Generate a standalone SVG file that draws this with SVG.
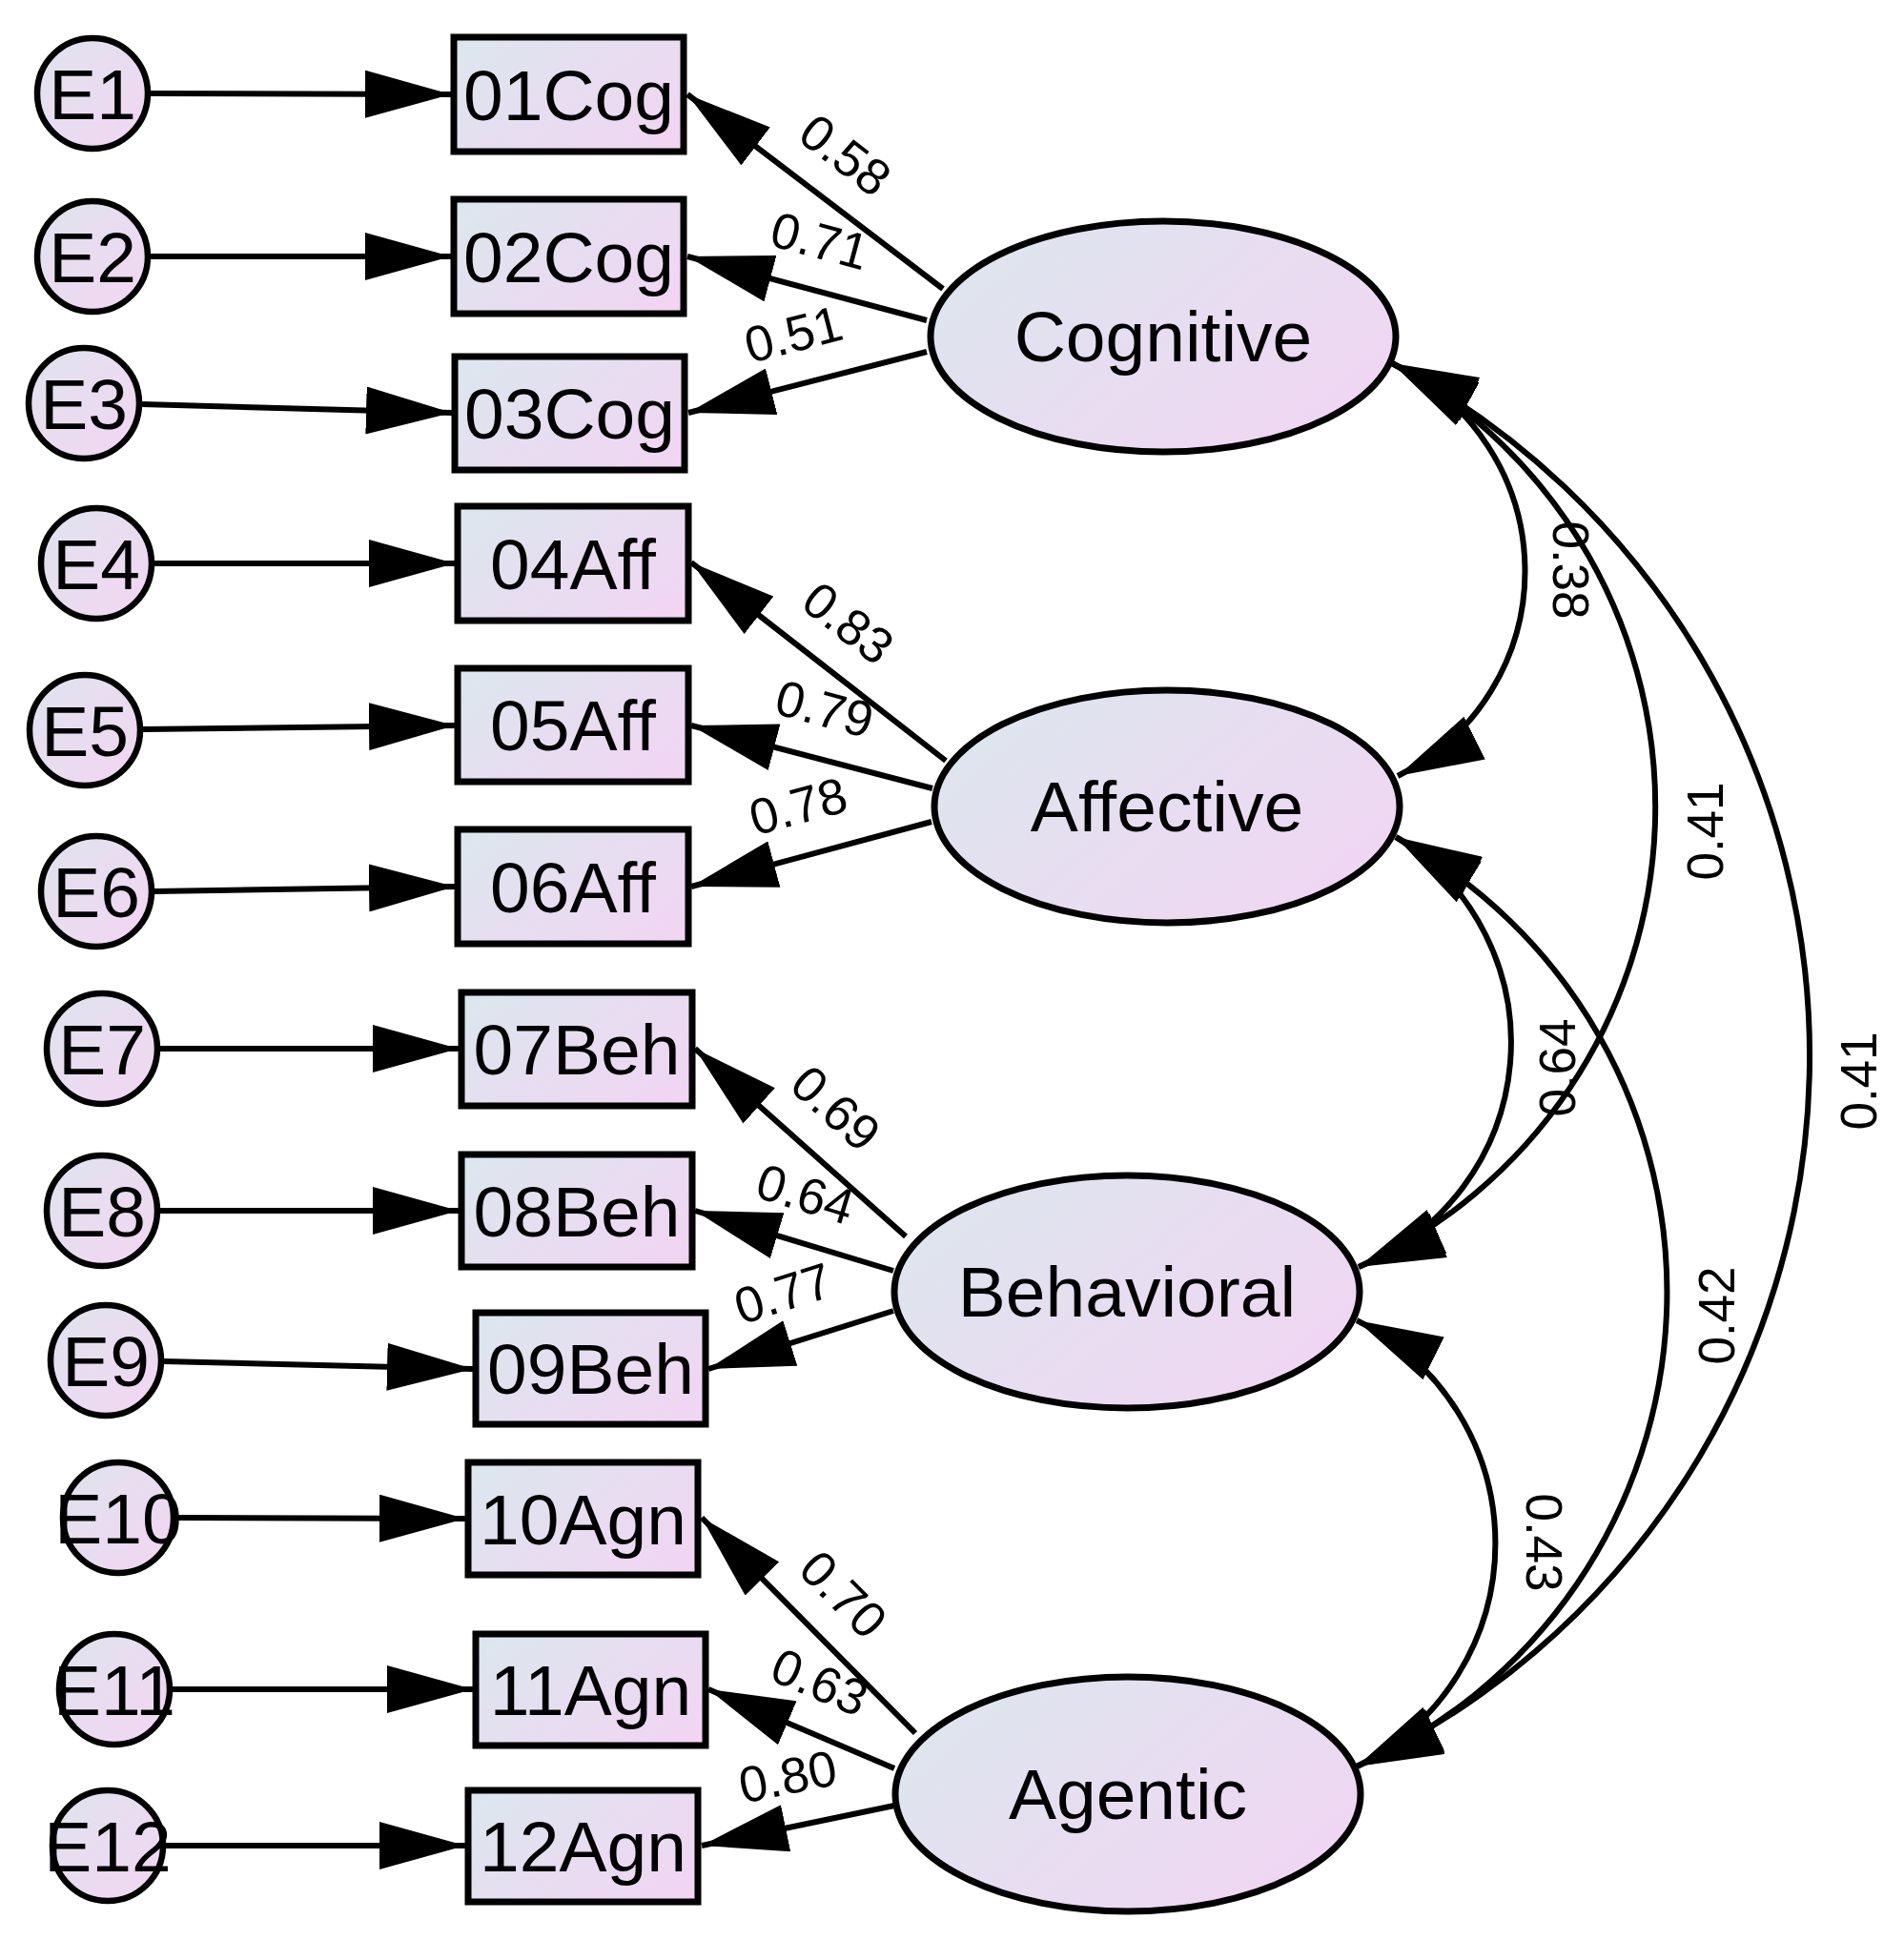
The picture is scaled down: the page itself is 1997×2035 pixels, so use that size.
<svg xmlns="http://www.w3.org/2000/svg" width="1997" height="2035" viewBox="0 0 1997 2035">
<style>
.n{stroke:#000;stroke-width:7;fill:url(#gf)}
.e{stroke:#000;stroke-width:6.5;fill:url(#gc)}
.t{font-family:"Liberation Sans",Arial,sans-serif;font-size:75px;text-anchor:middle;fill:#000}
.l{font-family:"Liberation Sans",Arial,sans-serif;font-size:53px;text-anchor:middle;fill:#000}
.c{fill:none;stroke:#000;stroke-width:6;marker-end:url(#ah)}
.cc{fill:none;stroke:#000;stroke-width:6;marker-start:url(#ah);marker-end:url(#ah)}
</style>
<defs>
<linearGradient id="gf" x1="0" y1="0.2" x2="1" y2="0.8">
<stop offset="0" stop-color="#dde6ee"/><stop offset="1" stop-color="#f1d5f3"/>
</linearGradient>
<linearGradient id="gc" x1="0" y1="0" x2="1" y2="1">
<stop offset="0" stop-color="#dfe4ee"/><stop offset="1" stop-color="#f3d5f2"/>
</linearGradient>
<marker id="ah" viewBox="0 0 90 50" refX="90" refY="25" markerWidth="90" markerHeight="50" orient="auto-start-reverse" markerUnits="userSpaceOnUse">
<path d="M0,0L90,25L0,50z" fill="#000"/>
</marker>
</defs>
<rect width="1997" height="2035" fill="#fff"/>

<g id="E1"><circle class="e" cx="97" cy="98" r="58"/><text class="t" x="97" y="125">E1</text></g>
<g id="E2"><circle class="e" cx="97" cy="269" r="58"/><text class="t" x="97" y="296">E2</text></g>
<g id="E3"><circle class="e" cx="88" cy="423" r="58"/><text class="t" x="88" y="450">E3</text></g>
<g id="E4"><circle class="e" cx="101" cy="591" r="58"/><text class="t" x="101" y="618">E4</text></g>
<g id="E5"><circle class="e" cx="89" cy="766" r="58"/><text class="t" x="89" y="793">E5</text></g>
<g id="E6"><circle class="e" cx="101" cy="935" r="58"/><text class="t" x="101" y="962">E6</text></g>
<g id="E7"><circle class="e" cx="107" cy="1100" r="58"/><text class="t" x="107" y="1127">E7</text></g>
<g id="E8"><circle class="e" cx="107" cy="1270" r="58"/><text class="t" x="107" y="1297">E8</text></g>
<g id="E9"><circle class="e" cx="111" cy="1427" r="58"/><text class="t" x="111" y="1454">E9</text></g>
<g id="E10"><circle class="e" cx="124" cy="1592" r="58"/><text class="t" x="124" y="1619">E10</text></g>
<g id="E11"><circle class="e" cx="120" cy="1772" r="58"/><text class="t" x="120" y="1799">E11</text></g>
<g id="E12"><circle class="e" cx="113" cy="1936" r="58"/><text class="t" x="113" y="1963">E12</text></g>

<g id="v01Cog"><rect class="n" x="476" y="39" width="241" height="120"/><text class="t" x="596.5" y="126">01Cog</text></g>
<g id="v02Cog"><rect class="n" x="476" y="209" width="241" height="120"/><text class="t" x="596.5" y="296">02Cog</text></g>
<g id="v03Cog"><rect class="n" x="477" y="374" width="241" height="119"/><text class="t" x="597.5" y="460">03Cog</text></g>
<g id="v04Aff"><rect class="n" x="480" y="531" width="242" height="120"/><text class="t" x="601" y="618">04Aff</text></g>
<g id="v05Aff"><rect class="n" x="480" y="701" width="242" height="119"/><text class="t" x="601" y="787">05Aff</text></g>
<g id="v06Aff"><rect class="n" x="480" y="870" width="242" height="120"/><text class="t" x="601" y="957">06Aff</text></g>
<g id="v07Beh"><rect class="n" x="484" y="1041" width="242" height="119"/><text class="t" x="605" y="1127">07Beh</text></g>
<g id="v08Beh"><rect class="n" x="484" y="1211" width="242" height="118"/><text class="t" x="605" y="1297">08Beh</text></g>
<g id="v09Beh"><rect class="n" x="499" y="1377" width="241" height="117"/><text class="t" x="619.5" y="1462">09Beh</text></g>
<g id="v10Agn"><rect class="n" x="491" y="1534" width="241" height="118"/><text class="t" x="611.5" y="1620">10Agn</text></g>
<g id="v11Agn"><rect class="n" x="499" y="1714" width="241" height="117"/><text class="t" x="619.5" y="1799">11Agn</text></g>
<g id="v12Agn"><rect class="n" x="491" y="1878" width="241" height="117"/><text class="t" x="611.5" y="1963">12Agn</text></g>

<g id="Cognitive"><ellipse class="n" cx="1220" cy="353" rx="244" ry="121"/><text class="t" x="1220" y="379">Cognitive</text></g>
<g id="Affective"><ellipse class="n" cx="1224" cy="846" rx="244" ry="122"/><text class="t" x="1224" y="872">Affective</text></g>
<g id="Behavioral"><ellipse class="n" cx="1182" cy="1355" rx="244" ry="122"/><text class="t" x="1182" y="1381">Behavioral</text></g>
<g id="Agentic"><ellipse class="n" cx="1183" cy="1882" rx="244" ry="123"/><text class="t" x="1183" y="1908">Agentic</text></g>

<g id="connectors">
<path class="c" d="M158,98L473,99"/>
<path class="c" d="M158,269L473,269"/>
<path class="c" d="M149,424L474,433"/>
<path class="c" d="M162,591L477,591"/>
<path class="c" d="M150,765L477,761"/>
<path class="c" d="M162,935L477,930"/>
<path class="c" d="M168,1100L481,1100"/>
<path class="c" d="M168,1270L481,1270"/>
<path class="c" d="M172,1428L496,1436"/>
<path class="c" d="M185,1592L488,1593"/>
<path class="c" d="M181,1772L496,1772"/>
<path class="c" d="M174,1936L488,1936"/>

<path class="c" d="M989,303L721,99"/>
<path class="c" d="M972,336L721,269"/>
<path class="c" d="M972,369L722,433"/>
<path class="c" d="M992,798L725,590"/>
<path class="c" d="M978,827L725,761"/>
<path class="c" d="M977,862L725,930"/>
<path class="c" d="M950,1297L729,1100"/>
<path class="c" d="M937,1333L729,1270"/>
<path class="c" d="M937,1375L743,1436"/>
<path class="c" d="M960,1818L736,1592"/>
<path class="c" d="M938,1855L743,1772"/>
<path class="c" d="M938,1894L736,1936"/>

<path class="cc" d="M1460,381A240,240 0 0 1 1466,814"/>
<path class="cc" d="M1460,381A530,530 0 0 1 1425,1329"/>
<path class="cc" d="M1460,381A822,822 0 0 1 1423,1853"/>
<path class="cc" d="M1464,878A253,253 0 0 1 1425,1329"/>
<path class="cc" d="M1464,878A543,543 0 0 1 1423,1853"/>
<path class="cc" d="M1423,1385A261,261 0 0 1 1423,1853"/>

<text class="l" transform="translate(887,162) rotate(37.5)" y="19">0.58</text>
<text class="l" transform="translate(860,252) rotate(15)" y="19">0.71</text>
<text class="l" transform="translate(832,350) rotate(-14.5)" y="19">0.51</text>
<text class="l" transform="translate(890,653) rotate(38)" y="19">0.83</text>
<text class="l" transform="translate(865,743) rotate(15)" y="19">0.79</text>
<text class="l" transform="translate(837,845) rotate(-15)" y="19">0.78</text>
<text class="l" transform="translate(877,1162) rotate(42)" y="19">0.69</text>
<text class="l" transform="translate(845,1252) rotate(17)" y="19">0.64</text>
<text class="l" transform="translate(821,1356) rotate(-17.5)" y="19">0.77</text>
<text class="l" transform="translate(885,1672) rotate(45.5)" y="19">0.70</text>
<text class="l" transform="translate(860,1764) rotate(23)" y="19">0.63</text>
<text class="l" transform="translate(826,1863) rotate(-11.3)" y="19">0.80</text>

<text class="l" transform="translate(1648,598) rotate(90)" y="19">0.38</text>
<text class="l" transform="translate(1788,872) rotate(-90)" y="19">0.41</text>
<text class="l" transform="translate(1949,1134) rotate(-90)" y="19">0.41</text>
<text class="l" transform="translate(1633,1120) rotate(-90)" y="19">0.64</text>
<text class="l" transform="translate(1800,1380) rotate(-90)" y="19">0.42</text>
<text class="l" transform="translate(1620,1618) rotate(90)" y="19">0.43</text>
</g>
</svg>
